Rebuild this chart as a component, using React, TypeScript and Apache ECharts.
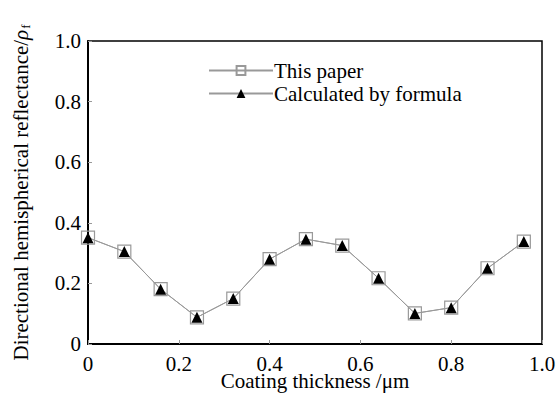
import React, { useEffect, useRef } from "react";
import * as echarts from "echarts";

const thickness = [0, 0.08, 0.16, 0.24, 0.32, 0.4, 0.48, 0.56, 0.64, 0.72, 0.8, 0.88, 0.96];
const thisPaper = [0.351, 0.305, 0.181, 0.088, 0.15, 0.28, 0.346, 0.325, 0.217, 0.101, 0.12, 0.25, 0.338];
const byFormula = [0.351, 0.305, 0.181, 0.088, 0.15, 0.28, 0.346, 0.325, 0.217, 0.101, 0.12, 0.25, 0.338];
const seriesNames = ["This paper", "Calculated by formula"];

const FONT = "Liberation Serif";

export default function App() {
  const ref = useRef<HTMLDivElement>(null);
  useEffect(() => {
    const chart = echarts.init(ref.current!, undefined, { renderer: "svg" });
    const fmt = (v: number) => (v === 0 ? "0" : v.toFixed(1));
    chart.setOption({
      animation: false,
      backgroundColor: "#fff",
      textStyle: { fontFamily: FONT },
      grid: {
        left: 88, right: 16, top: 41, bottom: 55,
        outerBoundsMode: "none",
        containLabel: false,
        show: true, borderColor: "#000", borderWidth: 1.5, backgroundColor: "transparent",
      },
      legend: {
        orient: "vertical",
        left: 203,
        top: 55,
        itemWidth: 64,
        itemHeight: 11,
        itemGap: 2,
        data: seriesNames,
        textStyle: { fontFamily: FONT, fontSize: 21, lineHeight: 21, color: "#000", padding: [0, 0, 0, -4] },
      },
      xAxis: {
        type: "value",
        min: 0,
        max: 1,
        interval: 0.2,
        name: "Coating thickness /μm",
        nameLocation: "middle",
        nameGap: 26,
        nameMoveOverlap: false,
        nameTextStyle: { fontFamily: FONT, fontSize: 21, color: "#000" },
        axisLine: { lineStyle: { color: "#000", width: 2 } },
        axisTick: { inside: true, length: 4, lineStyle: { color: "#999", width: 1 } },
        axisLabel: { formatter: fmt, fontFamily: FONT, fontSize: 21, color: "#000", margin: 9 },
        splitLine: { show: false },
      },
      yAxis: {
        type: "value",
        min: 0,
        max: 1,
        interval: 0.2,
        name: "{a|Directional hemispherical reflectance/}{i|ρ}{s|f}",
        nameLocation: "middle",
        nameGap: 56,
        nameMoveOverlap: false,
        nameTextStyle: {
          fontFamily: FONT,
          fontSize: 21,
          color: "#000",
          rich: {
            a: { fontFamily: FONT, fontSize: 21, color: "#000" },
            i: { fontFamily: FONT, fontSize: 21, fontStyle: "italic", color: "#000" },
            s: { fontFamily: FONT, fontSize: 13, color: "#000", verticalAlign: "bottom", padding: [10, 0, 0, 1] },
          },
        },
        axisLine: { lineStyle: { color: "#000", width: 2 } },
        axisTick: { inside: true, length: 4, lineStyle: { color: "#999", width: 1 } },
        axisLabel: { formatter: fmt, fontFamily: FONT, fontSize: 21, color: "#000", margin: 7 },
        splitLine: { show: false },
      },
      series: [
        {
          name: seriesNames[0],
          type: "line",
          data: thickness.map((x, i) => [x, thisPaper[i]]),
          symbol: "rect",
          symbolSize: 13,
          showAllSymbol: true,
          lineStyle: { color: "#999", width: 1 },
          itemStyle: { color: "rgba(255,255,255,0)", borderColor: "#999", borderWidth: 1.2 },
          z: 2,
        },
        {
          name: seriesNames[1],
          type: "line",
          data: thickness.map((x, i) => [x, byFormula[i]]),
          symbol: "triangle",
          symbolSize: 11,
          showAllSymbol: true,
          lineStyle: { color: "#999", width: 1 },
          itemStyle: { color: "#000", borderColor: "#000", borderWidth: 0 },
          z: 3,
        },
      ],
    });
    return () => chart.dispose();
  }, []);
  return <div ref={ref} style={{ position: "fixed", left: 0, top: 0, width: 558, height: 399 }} />;
}
